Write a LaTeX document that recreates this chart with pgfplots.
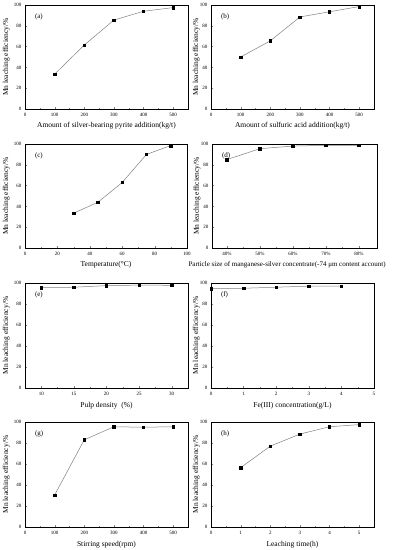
\documentclass[border=0pt]{standalone}
\usepackage{fontspec}
\setmainfont{Liberation Serif}
\usepackage{pgfplots}
\pgfplotsset{compat=1.18}
\pgfplotsset{
  panel/.style={
    scale only axis, anchor=north west,
    ymin=0, ymax=100, ytick={0,20,...,100},
    minor y tick num=1, minor x tick num=1,
    tick align=inside, major tick length=2pt, minor tick length=1.2pt,
    xtick pos=bottom, ytick pos=left,
    tick label style={font=\fontsize{5}{6}\selectfont},
    xticklabel style={yshift=-1pt},
    label style={font=\fontsize{7.5}{9}\selectfont},
    /pgf/number format/assume math mode=true,
    axis line style={line width=0.5pt},
    xlabel style={at={(axis description cs:0.5,-0.165)},anchor=center},
    ylabel={Mn leaching efficiency/\%},
  },
  pl/.style={draw=gray, line width=0.5pt, mark=square*, mark size=1.2pt, mark options={draw=black, fill=black, solid}},
  leftcol/.style={ylabel style={at={(axis description cs:-0.115,0.5)},anchor=center}},
  rightcol/.style={ylabel style={at={(axis description cs:-0.09,0.5)},anchor=center}},
}
\newcommand{\plab}[1]{\node[anchor=west, font=\fontsize{7}{8}\selectfont] at (rel axis cs:0.04,0.89) {#1};}
\begin{document}
\begin{tikzpicture}
\path[use as bounding box] (0,0) rectangle (393pt,550pt);
% (a)
\begin{axis}[panel, leftcol, at={(25pt,545pt)}, width=163pt, height=104pt,
  xmin=0, xmax=550, xtick={0,100,...,500},
  xlabel={Amount of silver-bearing pyrite addition(kg/t)}]
\addplot[pl] coordinates {(100,33.5) (200,61.5) (300,85.5) (400,94) (500,97.5)};
\plab{(a)}
\end{axis}
% (b)
\begin{axis}[panel, rightcol, at={(211pt,545pt)}, width=163pt, height=104pt,
  xmin=0, xmax=550, xtick={0,100,...,500},
  xlabel={Amount of sulfuric acid addition(kg/t)}]
\addplot[pl] coordinates {(100,50) (200,65.5) (300,88.5) (400,93.5) (500,98.5)};
\plab{(b)}
\end{axis}
% (c)
\begin{axis}[panel, leftcol, at={(25pt,406pt)}, width=162pt, height=104pt,
  xmin=0, xmax=100, xtick={0,20,...,100},
  xlabel={Temperature(°C)}]
\addplot[pl] coordinates {(30,33.5) (45,44) (60,63) (75,90) (90,98.5)};
\plab{(c)}
\end{axis}
% (d)
\begin{axis}[panel, rightcol, at={(212pt,406pt)}, width=165pt, height=104pt,
  xmin=35.5, xmax=85.5, xtick={40,50,60,70,80},
  xticklabels={40\%,50\%,60\%,70\%,80\%},
  xlabel style={at={(axis description cs:0.455,-0.165)},anchor=center,font=\fontsize{7}{8.5}\selectfont},
  xlabel={Particle size of manganese-silver concentrate(-74 μm content account)}]
\addplot[pl] coordinates {(40,85) (50,95.5) (60,98) (70,98.7) (80,98.7)};
\plab{(d)}
\end{axis}
% (e)
\begin{axis}[panel, leftcol, at={(25pt,267pt)}, width=163pt, height=105pt,
  xmin=7.5, xmax=32.5, xtick={10,15,...,30},
  xlabel={Pulp density\ \ (\%)}]
\addplot[pl] coordinates {(10,95.5) (15,96) (20,97.5) (25,98) (30,97.8)};
\plab{(e)}
\end{axis}
% (f)
\begin{axis}[panel, rightcol, at={(211pt,267pt)}, width=163pt, height=105pt,
  xmin=0, xmax=5, xtick={0,1,...,5},
  xlabel={Fe(III) concentration(g/L)}]
\addplot[pl] coordinates {(0,94.5) (1,95) (2,96) (3,97) (4,97)};
\plab{(f)}
\end{axis}
% (g)
\begin{axis}[panel, leftcol, at={(25pt,128pt)}, width=163pt, height=105pt,
  xmin=0, xmax=550, xtick={0,100,...,500},
  xlabel={Stirring speed(rpm)}]
\addplot[pl] coordinates {(100,30.5) (200,83) (300,95.5) (400,95) (500,95.5)};
\plab{(g)}
\end{axis}
% (h)
\begin{axis}[panel, rightcol, at={(211pt,128pt)}, width=163pt, height=105pt,
  xmin=0, xmax=5.5, xtick={0,1,...,5},
  xlabel={Leaching time(h)}]
\addplot[pl] coordinates {(1,56.5) (2,77) (3,88.5) (4,95.5) (5,97.5)};
\plab{(h)}
\end{axis}
\end{tikzpicture}
\end{document}
